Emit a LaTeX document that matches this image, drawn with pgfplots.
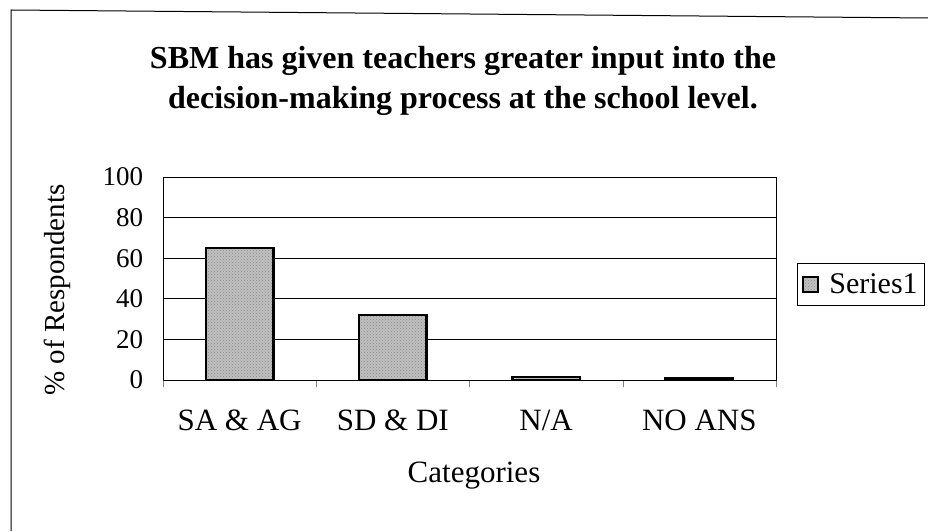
\documentclass[border=0pt]{standalone}
\usepackage{fontspec}
\setmainfont{Liberation Serif}
\usepackage{pgfplots}
\pgfplotsset{compat=1.18}
\usetikzlibrary{patterns}
\begin{document}
\begin{tikzpicture}[x=1pt,y=1pt]
\useasboundingbox (0,0) rectangle (928,531);
\draw[line width=1pt] (11,0) -- (11,521) -- (928,513);
\begin{axis}[
  at={(163pt,151pt)}, anchor=south west,
  scale only axis, width=613pt, height=203pt,
  xmin=-0.5, xmax=3.5, ymin=0, ymax=100,
  xtick={0,1,2,3},
  xticklabels={SA \& AG, SD \& DI, N/A, NO ANS},
  minor xtick={-0.5,0.5,1.5,2.5,3.5},
  major x tick style={draw=none},
  minor tick length=7pt,
  tick align=outside,
  tick pos=left,
  ytick={0,20,...,100},
  major y tick style={draw=none},
  ymajorgrids,
  grid style={black, line width=0.8pt},
  axis line style={black, line width=0.8pt},
  /pgf/number format/assume math mode=true,
  xticklabel style={font=\fontsize{31}{31}\selectfont, yshift=-22pt},
  yticklabel style={font=\fontsize{27}{27}\selectfont, xshift=-12pt},
  legend style={at={(1,0.5)}, anchor=west, xshift=21pt, yshift=-6pt,
    draw=black, line width=0.8pt, font=\fontsize{30}{30}\selectfont,
    inner xsep=5pt, inner ysep=8pt,
    /tikz/every even column/.append style={column sep=0pt}},
  legend cell align=left,
  legend image code/.code={\draw[#1, line width=2pt] (0pt,-7pt) rectangle (15pt,8pt);},
]
\addplot[ybar, bar width=0.44, draw=black, line width=2.5pt, fill=black!25,
  postaction={pattern=crosshatch dots, pattern color=black!45}]
  coordinates {(0,65) (1,32) (2,1.5) (3,1)};
\addlegendentry{\hspace{8pt}Series1}
\end{axis}
\node[font=\bfseries\fontsize{32}{40}\selectfont, align=center] at (463,450)
  {SBM has given teachers greater input into the\\decision-making process at the school level.};
\node[font=\fontsize{29}{29}\selectfont, rotate=90] at (57,241) {\% of Respondents};
\node[font=\fontsize{31}{31}\selectfont] at (474,55) {Categories};
\end{tikzpicture}
\end{document}
